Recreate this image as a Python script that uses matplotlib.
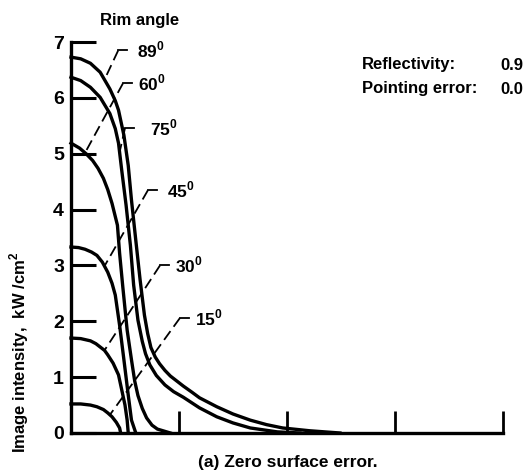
import numpy as np
import matplotlib
matplotlib.use("Agg")
from matplotlib import pyplot as plt

plt.rcParams['font.family'] = ['Liberation Sans', 'DejaVu Sans']
plt.rcParams['font.weight'] = 'bold'
plt.rcParams['axes.labelweight'] = 'bold'
plt.rcParams['mathtext.fontset'] = 'custom'
plt.rcParams['mathtext.rm'] = 'Liberation Sans:bold'
plt.rcParams['mathtext.bf'] = 'Liberation Sans:bold'

# image intensity profiles, one per rim angle (x = radial position, y = kW/cm^2)
rim_angles = ['89', '75', '60', '45', '30', '15']

x89 = [0, 0.09, 0.18, 0.27, 0.36, 0.41, 0.44, 0.49, 0.53, 0.56, 0.60, 0.64, 0.68,
       0.71, 0.74, 0.78, 0.82, 0.87, 0.92, 0.98, 1.04, 1.12, 1.19, 1.27, 1.35,
       1.50, 1.66, 1.81, 1.96, 2.21, 2.49]
y89 = [6.73, 6.70, 6.62, 6.46, 6.16, 5.95, 5.78, 5.33, 4.79, 4.17, 3.45, 2.74, 2.11,
       1.78, 1.53, 1.36, 1.24, 1.12, 1.02, 0.93, 0.84, 0.73, 0.63, 0.55, 0.47,
       0.34, 0.23, 0.15, 0.09, 0.04, 0.0]

x75 = [0, 0.09, 0.18, 0.27, 0.36, 0.41, 0.44, 0.47, 0.51, 0.55, 0.58, 0.62, 0.66,
       0.69, 0.73, 0.79, 0.87, 0.95, 1.04, 1.19, 1.35, 1.50, 1.66, 1.91, 2.12]
y75 = [6.37, 6.31, 6.19, 6.01, 5.72, 5.45, 5.19, 4.70, 4.08, 3.36, 2.65, 2.02, 1.64,
       1.42, 1.22, 1.03, 0.86, 0.74, 0.64, 0.45, 0.29, 0.18, 0.09, 0.02, 0.0]

x60 = [0, 0.08, 0.14, 0.20, 0.25, 0.30, 0.34, 0.38, 0.43, 0.45, 0.48, 0.52, 0.56,
       0.59, 0.62, 0.66, 0.70, 0.75, 0.80, 0.92]
y60 = [5.19, 5.10, 5.00, 4.88, 4.74, 4.56, 4.36, 4.11, 3.72, 3.22, 2.61, 1.84, 1.31,
       0.93, 0.67, 0.44, 0.27, 0.14, 0.07, 0.0]

x45 = [0, 0.07, 0.13, 0.19, 0.24, 0.29, 0.34, 0.38, 0.41, 0.45, 0.49, 0.53, 0.56, 0.60]
y45 = [3.33, 3.32, 3.29, 3.24, 3.18, 3.06, 2.88, 2.68, 2.47, 1.93, 1.31, 0.68, 0.23, 0.0]

x30 = [0, 0.09, 0.18, 0.23, 0.27, 0.31, 0.34, 0.39, 0.44, 0.47, 0.50, 0.52, 0.53]
y30 = [1.70, 1.69, 1.65, 1.60, 1.54, 1.48, 1.40, 1.25, 1.04, 0.77, 0.50, 0.23, 0.0]

x15 = [0, 0.09, 0.18, 0.24, 0.30, 0.34, 0.38, 0.42, 0.45, 0.46]
y15 = [0.52, 0.52, 0.50, 0.47, 0.42, 0.36, 0.29, 0.19, 0.09, 0.0]

curves = [(x89, y89), (x75, y75), (x60, y60), (x45, y45), (x30, y30), (x15, y15)]

# leader lines: top of leader (x, y), where it meets the curve (x), label start x
leader_top = [(0.437, 6.85), (0.500, 5.46), (0.481, 6.26), (0.713, 4.35), (0.824, 3.00), (1.009, 2.06)]
leader_hit = [0.31, 0.45, 0.13, 0.31, 0.31, 0.36]
label_x = [0.611, 0.731, 0.620, 0.889, 0.963, 1.148]

yticks = [0, 1, 2, 3, 4, 5, 6, 7]
xticks = [0, 1, 2, 3, 4]

fig = plt.figure(figsize=(5.31, 4.71), dpi=100)
ax = fig.add_axes([0.1337, 0.0807, 0.8136, 0.830])

for (xs, ys) in curves:
    ax.plot(xs, ys, color='black', lw=2.4, solid_joinstyle='round', clip_on=False)

for i, ang in enumerate(rim_angles):
    xs, ys = curves[i]
    tx, ty = leader_top[i]
    hx = leader_hit[i]
    hy = np.interp(hx, xs, ys)
    ax.plot([tx, hx], [ty, hy], color='black', lw=1.3, dashes=(6, 3))
    ax.plot([tx, tx + 0.085], [ty, ty], color='black', lw=1.3)
    ax.text(label_x[i], ty, ang + r'$^0$', fontsize=12.5, va='center', ha='left')

ax.set_xlim(0, 4)
ax.set_ylim(0, 7)
ax.set_xticks(xticks)
ax.set_xticklabels([])
ax.set_yticks(yticks)
ax.set_yticklabels([str(t) for t in yticks], fontsize=14, fontweight='bold')
ax.tick_params(axis='y', direction='in', length=18, width=2.2, pad=5)
ax.tick_params(axis='x', direction='in', length=16, width=2)
for s in ['top', 'right']:
    ax.spines[s].set_visible(False)
for s in ['left', 'bottom']:
    ax.spines[s].set_linewidth(2.4)

ax.set_ylabel(r'Image intensity,  kW /cm$^2$', fontsize=12)
ax.yaxis.set_label_coords(-0.093, 0.205)

fig.text(140 / 531, 1 - 20 / 471, 'Rim angle', fontsize=12, ha='center', va='center')
fig.text(362 / 531, 1 - 65 / 471, 'Reflectivity:', fontsize=12, ha='left', va='center')
fig.text(362 / 531, 1 - 89 / 471, 'Pointing error:', fontsize=12, ha='left', va='center')
fig.text(500 / 531, 1 - 65 / 471, '0.9', fontsize=12, ha='left', va='center')
fig.text(500 / 531, 1 - 89 / 471, '0.0', fontsize=12, ha='left', va='center')
fig.text(288 / 531, 1 - 462 / 471, '(a) Zero surface error.', fontsize=12.5, ha='center', va='center')

fig.savefig('out.png', dpi=100, facecolor='white')
